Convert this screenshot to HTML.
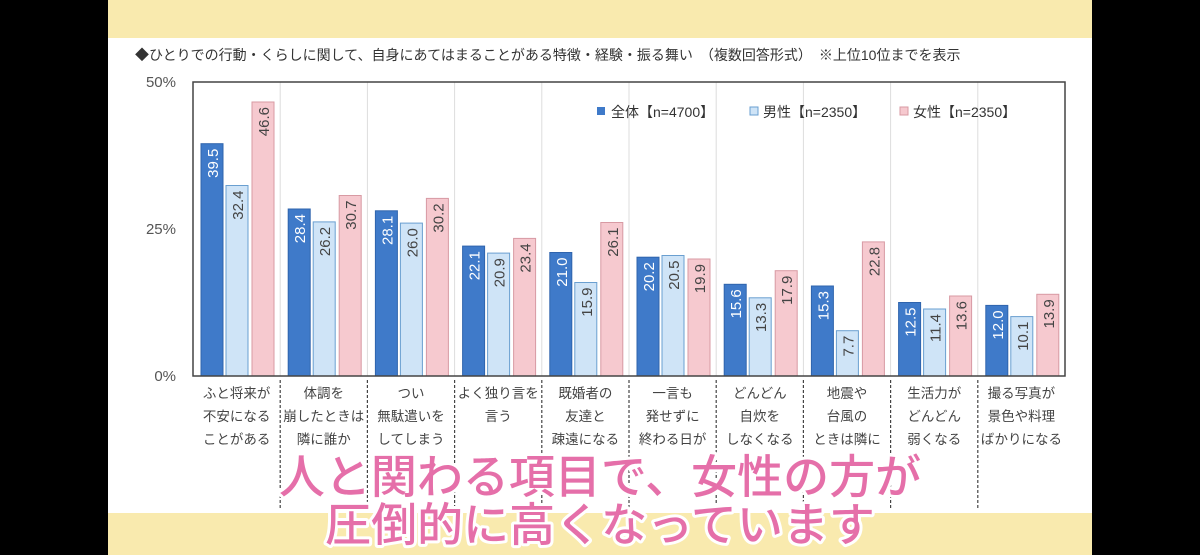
<!DOCTYPE html>
<html><head><meta charset="utf-8"><style>
body{margin:0;background:#000;}
svg{display:block;font-family:"Liberation Sans","Noto Sans CJK JP",sans-serif;}
.b{fill:#3f7ac9;stroke:#2f64ad}
.m{fill:#cfe4f7;stroke:#6a9fd0}
.f{fill:#f6c9cf;stroke:#d89aa3}
.lw{fill:#fff;font-size:15px;text-anchor:end}
.ld{fill:#444;font-size:15px;text-anchor:end}
.c{font-size:13.5px;fill:#444;text-anchor:middle}
</style></head><body>
<svg width="1200" height="555" viewBox="0 0 1200 555">
<rect x="0" y="0" width="1200" height="555" fill="#000"/>
<rect x="108" y="0" width="984" height="555" fill="#fff"/>
<rect x="108" y="0" width="984" height="38" fill="#f9eaae"/>
<rect x="108" y="513" width="984" height="42" fill="#f9eaae"/>
<text x="135" y="60" font-size="14" fill="#333">◆ひとりでの行動・くらしに関して、自身にあてはまることがある特徴・経験・振る舞い　（複数回答形式）　※上位10位までを表示</text>
<g font-size="15" fill="#555" text-anchor="end">
<text x="176" y="87">50%</text><text x="176" y="234">25%</text><text x="176" y="381">0%</text>
</g>
<g stroke="#ddd" stroke-width="1">
<line x1="280.2" y1="82" x2="280.2" y2="376"/><line x1="367.4" y1="82" x2="367.4" y2="376"/><line x1="454.6" y1="82" x2="454.6" y2="376"/><line x1="541.8" y1="82" x2="541.8" y2="376"/><line x1="629" y1="82" x2="629" y2="376"/><line x1="716.2" y1="82" x2="716.2" y2="376"/><line x1="803.4" y1="82" x2="803.4" y2="376"/><line x1="890.6" y1="82" x2="890.6" y2="376"/><line x1="977.8" y1="82" x2="977.8" y2="376"/>
</g>
<g stroke="#444" stroke-width="1.2" stroke-dasharray="3,2">
<line x1="280.2" y1="380" x2="280.2" y2="510"/><line x1="367.4" y1="380" x2="367.4" y2="510"/><line x1="454.6" y1="380" x2="454.6" y2="510"/><line x1="541.8" y1="380" x2="541.8" y2="510"/><line x1="629" y1="380" x2="629" y2="510"/><line x1="716.2" y1="380" x2="716.2" y2="510"/><line x1="803.4" y1="380" x2="803.4" y2="510"/><line x1="890.6" y1="380" x2="890.6" y2="510"/><line x1="977.8" y1="380" x2="977.8" y2="510"/>
</g>

<g transform="translate(193,0)">
<rect class="b" x="8" y="143.7" width="22" height="232.3"/><rect class="m" x="33" y="185.5" width="22" height="190.5"/><rect class="f" x="59" y="102" width="22" height="274"/>
<text class="lw" transform="translate(25,148.7) rotate(-90)">39.5</text><text class="ld" transform="translate(50,190.5) rotate(-90)">32.4</text><text class="ld" transform="translate(76,107) rotate(-90)">46.6</text>
<text class="c" x="43.6" y="398">ふと将来が</text><text class="c" x="43.6" y="421">不安になる</text><text class="c" x="43.6" y="444">ことがある</text>
</g>
<g transform="translate(280.2,0)">
<rect class="b" x="8" y="209" width="22" height="167"/><rect class="m" x="33" y="221.9" width="22" height="154.1"/><rect class="f" x="59" y="195.5" width="22" height="180.5"/>
<text class="lw" transform="translate(25,214) rotate(-90)">28.4</text><text class="ld" transform="translate(50,226.9) rotate(-90)">26.2</text><text class="ld" transform="translate(76,200.5) rotate(-90)">30.7</text>
<text class="c" x="43.6" y="398">体調を</text><text class="c" x="43.6" y="421">崩したときは</text><text class="c" x="43.6" y="444">隣に誰か</text>
</g>
<g transform="translate(367.4,0)">
<rect class="b" x="8" y="210.8" width="22" height="165.2"/><rect class="m" x="33" y="223.1" width="22" height="152.9"/><rect class="f" x="59" y="198.4" width="22" height="177.6"/>
<text class="lw" transform="translate(25,215.8) rotate(-90)">28.1</text><text class="ld" transform="translate(50,228.1) rotate(-90)">26.0</text><text class="ld" transform="translate(76,203.4) rotate(-90)">30.2</text>
<text class="c" x="43.6" y="398">つい</text><text class="c" x="43.6" y="421">無駄遣いを</text><text class="c" x="43.6" y="444">してしまう</text>
</g>
<g transform="translate(454.6,0)">
<rect class="b" x="8" y="246.1" width="22" height="129.9"/><rect class="m" x="33" y="253.1" width="22" height="122.9"/><rect class="f" x="59" y="238.4" width="22" height="137.6"/>
<text class="lw" transform="translate(25,251.1) rotate(-90)">22.1</text><text class="ld" transform="translate(50,258.1) rotate(-90)">20.9</text><text class="ld" transform="translate(76,243.4) rotate(-90)">23.4</text>
<text class="c" x="43.6" y="398">よく独り言を</text><text class="c" x="43.6" y="421">言う</text>
</g>
<g transform="translate(541.8,0)">
<rect class="b" x="8" y="252.5" width="22" height="123.5"/><rect class="m" x="33" y="282.5" width="22" height="93.5"/><rect class="f" x="59" y="222.5" width="22" height="153.5"/>
<text class="lw" transform="translate(25,257.5) rotate(-90)">21.0</text><text class="ld" transform="translate(50,287.5) rotate(-90)">15.9</text><text class="ld" transform="translate(76,227.5) rotate(-90)">26.1</text>
<text class="c" x="43.6" y="398">既婚者の</text><text class="c" x="43.6" y="421">友達と</text><text class="c" x="43.6" y="444">疎遠になる</text>
</g>
<g transform="translate(629,0)">
<rect class="b" x="8" y="257.2" width="22" height="118.8"/><rect class="m" x="33" y="255.5" width="22" height="120.5"/><rect class="f" x="59" y="259" width="22" height="117"/>
<text class="lw" transform="translate(25,262.2) rotate(-90)">20.2</text><text class="ld" transform="translate(50,260.5) rotate(-90)">20.5</text><text class="ld" transform="translate(76,264) rotate(-90)">19.9</text>
<text class="c" x="43.6" y="398">一言も</text><text class="c" x="43.6" y="421">発せずに</text><text class="c" x="43.6" y="444">終わる日が</text>
</g>
<g transform="translate(716.2,0)">
<rect class="b" x="8" y="284.3" width="22" height="91.7"/><rect class="m" x="33" y="297.8" width="22" height="78.2"/><rect class="f" x="59" y="270.7" width="22" height="105.3"/>
<text class="lw" transform="translate(25,289.3) rotate(-90)">15.6</text><text class="ld" transform="translate(50,302.8) rotate(-90)">13.3</text><text class="ld" transform="translate(76,275.7) rotate(-90)">17.9</text>
<text class="c" x="43.6" y="398">どんどん</text><text class="c" x="43.6" y="421">自炊を</text><text class="c" x="43.6" y="444">しなくなる</text>
</g>
<g transform="translate(803.4,0)">
<rect class="b" x="8" y="286" width="22" height="90"/><rect class="m" x="33" y="330.7" width="22" height="45.3"/><rect class="f" x="59" y="241.9" width="22" height="134.1"/>
<text class="lw" transform="translate(25,291) rotate(-90)">15.3</text><text class="ld" transform="translate(50,335.7) rotate(-90)">7.7</text><text class="ld" transform="translate(76,246.9) rotate(-90)">22.8</text>
<text class="c" x="43.6" y="398">地震や</text><text class="c" x="43.6" y="421">台風の</text><text class="c" x="43.6" y="444">ときは隣に</text>
</g>
<g transform="translate(890.6,0)">
<rect class="b" x="8" y="302.5" width="22" height="73.5"/><rect class="m" x="33" y="309" width="22" height="67"/><rect class="f" x="59" y="296" width="22" height="80"/>
<text class="lw" transform="translate(25,307.5) rotate(-90)">12.5</text><text class="ld" transform="translate(50,314) rotate(-90)">11.4</text><text class="ld" transform="translate(76,301) rotate(-90)">13.6</text>
<text class="c" x="43.6" y="398">生活力が</text><text class="c" x="43.6" y="421">どんどん</text><text class="c" x="43.6" y="444">弱くなる</text>
</g>
<g transform="translate(977.8,0)">
<rect class="b" x="8" y="305.4" width="22" height="70.6"/><rect class="m" x="33" y="316.6" width="22" height="59.4"/><rect class="f" x="59" y="294.3" width="22" height="81.7"/>
<text class="lw" transform="translate(25,310.4) rotate(-90)">12.0</text><text class="ld" transform="translate(50,321.6) rotate(-90)">10.1</text><text class="ld" transform="translate(76,299.3) rotate(-90)">13.9</text>
<text class="c" x="43.6" y="398">撮る写真が</text><text class="c" x="43.6" y="421">景色や料理</text><text class="c" x="43.6" y="444">ばかりになる</text>
</g>

<rect x="193" y="82" width="872" height="294" fill="none" stroke="#444" stroke-width="1.5"/>
<g font-size="14" fill="#333">
<rect x="597" y="107" width="8" height="8" fill="#3f7ac9"/><text x="611" y="117">全体【n=4700】</text>
<rect x="750" y="107" width="8" height="8" fill="#cfe4f7" stroke="#6a9fd0"/><text x="763" y="117">男性【n=2350】</text>
<rect x="900" y="107" width="8" height="8" fill="#f6c9cf" stroke="#d89aa3"/><text x="913" y="117">女性【n=2350】</text>
</g>
<g font-size="46" font-weight="500" fill="#e56fa9" stroke="#fff" stroke-width="6" paint-order="stroke" text-anchor="middle" stroke-linejoin="round">
<text x="600" y="493">人と関わる項目で、女性の方が</text>
<text x="600" y="541">圧倒的に高くなっています</text>
</g>
</svg>
</body></html>
